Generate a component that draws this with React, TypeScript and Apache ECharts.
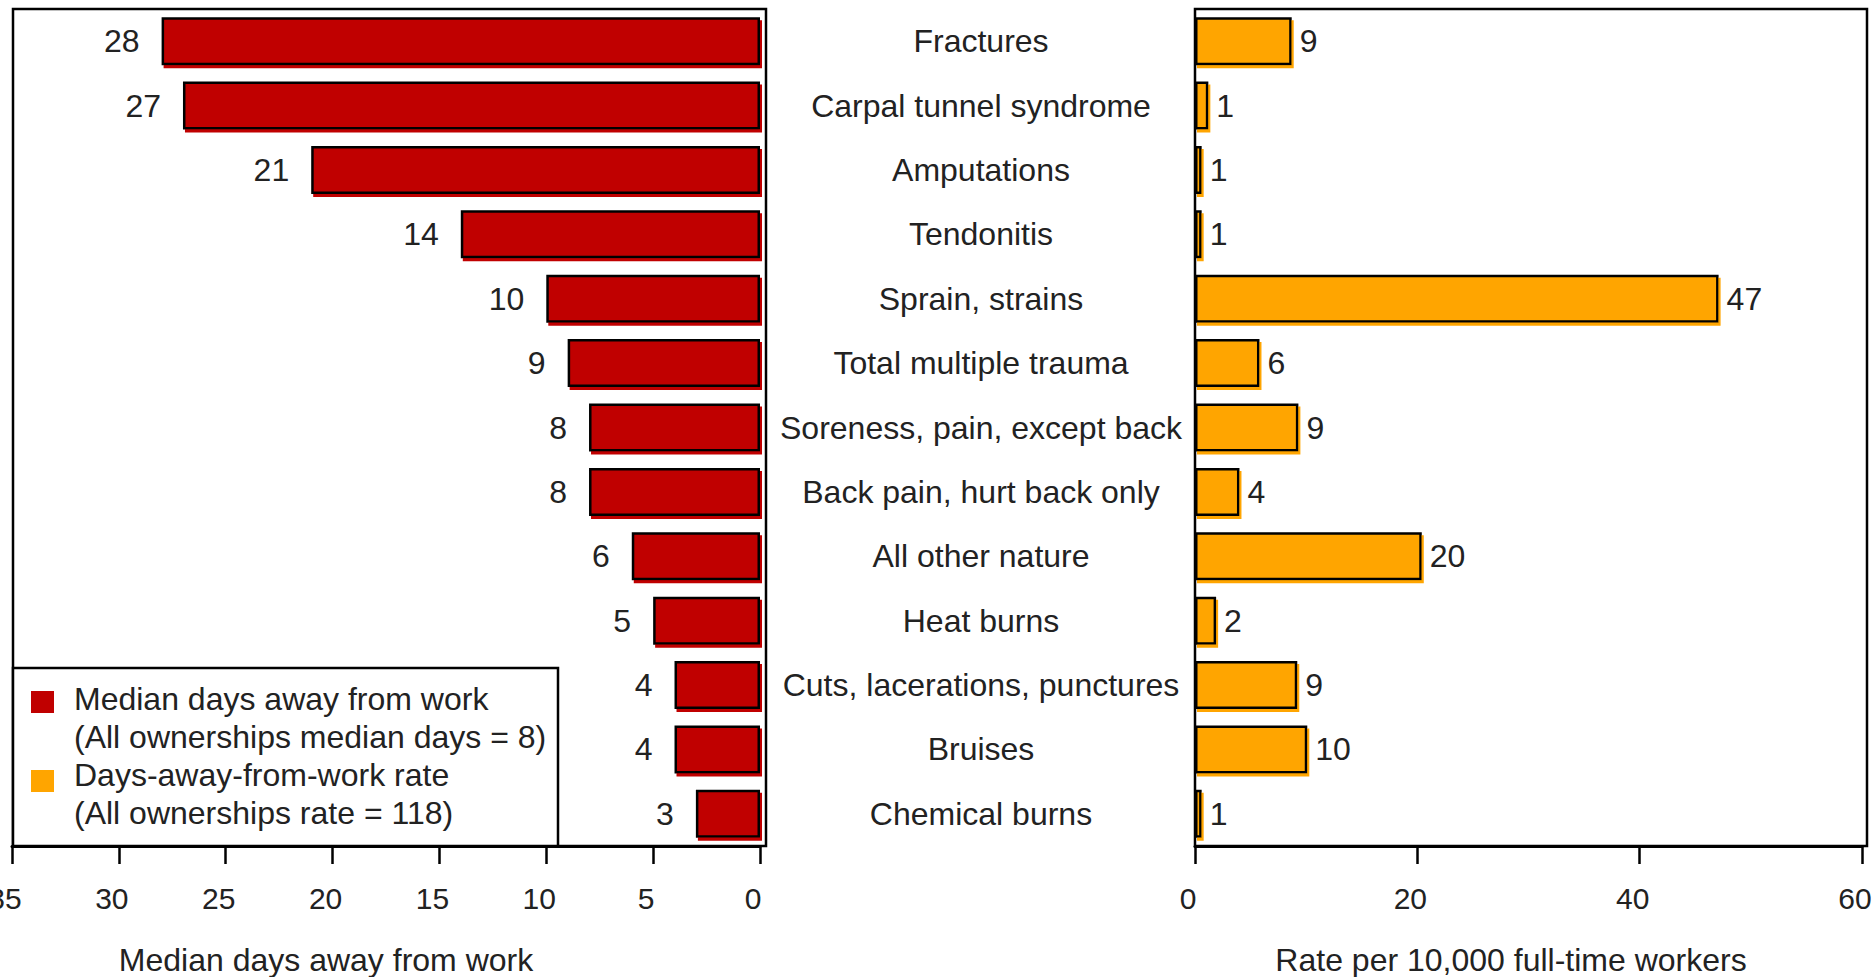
import React, { useEffect, useRef } from "react";
import * as echarts from "echarts";

const categories = [
  "Fractures",
  "Carpal tunnel syndrome",
  "Amputations",
  "Tendonitis",
  "Sprain, strains",
  "Total multiple trauma",
  "Soreness, pain, except back",
  "Back pain, hurt back only",
  "All other nature",
  "Heat burns",
  "Cuts, lacerations, punctures",
  "Bruises",
  "Chemical burns",
];
const medianDays = [28, 27, 21, 14, 10, 9, 8, 8, 6, 5, 4, 4, 3];
const rates = [8.7, 1.2, 0.6, 0.6, 47.1, 5.8, 9.3, 4.0, 20.4, 1.9, 9.2, 10.1, 0.6];
const leftTicks = [0, 35, 5];
const rightTicks = [0, 60, 20];
const legendLines = [
  "Median days away from work",
  "(All ownerships median days = 8)",
  "Days-away-from-work rate",
  "(All ownerships rate = 118)",
];
const axisTitles = ["Median days away from work", "Rate per 10,000 full-time workers"];

const RED = "#C00000";
const ORANGE = "#FFA500";
const FONT = "Liberation Sans, Arial, sans-serif";
const TEXT = "#222";
const FS = 32;

export default function App() {
  const ref = useRef<HTMLDivElement>(null);
  useEffect(() => {
    if (!ref.current) return;
    const chart = echarts.init(ref.current, null, { renderer: "svg" });
    const axisCommon = {
      type: "value" as const,
      position: "bottom" as const,
      axisLine: { show: true, lineStyle: { color: "#000", width: 3 } },
      axisTick: { show: true, length: 18, inside: false, lineStyle: { color: "#000", width: 2.5 } },
      axisLabel: {
        fontSize: 30,
        fontFamily: FONT,
        color: TEXT,
        margin: 37,
        padding: [0, 14, 0, 0],
      },
      splitLine: { show: false },
    };
    const gridTop = 9;
    const gridH = 837;
    const option = {
      animation: false,
      backgroundColor: "#fff",
      grid: [
        { left: 12, top: gridTop, width: 748, height: gridH, outerBoundsMode: "none", containLabel: false },
        { left: 1195, top: gridTop, width: 667, height: gridH, outerBoundsMode: "none", containLabel: false },
      ],
      xAxis: [
        { ...axisCommon, gridIndex: 0, min: leftTicks[0], max: leftTicks[1], interval: leftTicks[2], inverse: true },
        { ...axisCommon, gridIndex: 1, min: rightTicks[0], max: rightTicks[1], interval: rightTicks[2] },
      ],
      yAxis: [
        {
          type: "category",
          gridIndex: 0,
          data: categories,
          inverse: true,
          axisLine: { show: false },
          axisTick: { show: false },
          axisLabel: { show: false },
        },
        {
          type: "category",
          gridIndex: 1,
          data: categories,
          inverse: true,
          axisLine: { show: false },
          axisTick: { show: false },
          axisLabel: {
            show: true,
            align: "center",
            margin: 214,
            fontSize: FS,
            fontFamily: FONT,
            color: TEXT,
          },
        },
      ],
      series: [
        {
          name: "Median days away from work",
          type: "bar",
          xAxisIndex: 0,
          yAxisIndex: 0,
          data: medianDays,
          barWidth: 48,
          itemStyle: {
            color: RED,
            borderColor: "#000",
            borderWidth: 2.5,
            shadowColor: RED,
            shadowOffsetX: 2,
            shadowOffsetY: 3,
            shadowBlur: 0,
          },
          label: {
            show: true,
            position: "left",
            distance: 22,
            fontSize: FS,
            fontFamily: FONT,
            color: TEXT,
          },
        },
        {
          name: "Days-away-from-work rate",
          type: "bar",
          xAxisIndex: 1,
          yAxisIndex: 1,
          data: rates,
          barWidth: 48,
          itemStyle: {
            color: ORANGE,
            borderColor: "#000",
            borderWidth: 2.5,
            shadowColor: ORANGE,
            shadowOffsetX: 2,
            shadowOffsetY: 3,
            shadowBlur: 0,
          },
          label: {
            show: true,
            position: "right",
            distance: 8,
            fontSize: FS,
            fontFamily: FONT,
            color: TEXT,
            formatter: (p: any) => String(Math.round(p.value)),
          },
        },
      ],
      graphic: [
        {
          type: "rect",
          shape: { x: 13, y: 9, width: 753, height: 837 },
          style: { fill: "none", stroke: "#000", lineWidth: 2.5 },
          z: 10,
        },
        {
          type: "rect",
          shape: { x: 1195, y: 9, width: 672, height: 837 },
          style: { fill: "none", stroke: "#000", lineWidth: 2.5 },
          z: 10,
        },
        {
          type: "rect",
          shape: { x: 13, y: 668, width: 545, height: 178 },
          style: { fill: "#fff", stroke: "#000", lineWidth: 2.5 },
          z: 11,
        },
        {
          type: "rect",
          shape: { x: 31, y: 691, width: 23, height: 22 },
          style: { fill: RED },
          z: 12,
        },
        {
          type: "rect",
          shape: { x: 31, y: 770, width: 23, height: 22 },
          style: { fill: ORANGE },
          z: 12,
        },
        ...legendLines.map((t, i) => ({
          type: "text",
          x: 74,
          y: [699, 737, 775, 813][i],
          z: 12,
          style: {
            text: t,
            font: `${FS}px ${FONT}`,
            fill: TEXT,
            textAlign: "left",
            textVerticalAlign: "middle",
          },
        })),
        {
          type: "text",
          x: 326,
          y: 960,
          style: {
            text: axisTitles[0],
            font: `${FS}px ${FONT}`,
            fill: TEXT,
            textAlign: "center",
            textVerticalAlign: "middle",
          },
        },
        {
          type: "text",
          x: 1511,
          y: 960,
          style: {
            text: axisTitles[1],
            font: `${FS}px ${FONT}`,
            fill: TEXT,
            textAlign: "center",
            textVerticalAlign: "middle",
          },
        },
      ],
    };
    chart.setOption(option as any);
    return () => chart.dispose();
  }, []);
  return (
    <div
      ref={ref}
      style={{ position: "fixed", left: 0, top: 0, width: 1874, height: 977, background: "#fff" }}
    />
  );
}
